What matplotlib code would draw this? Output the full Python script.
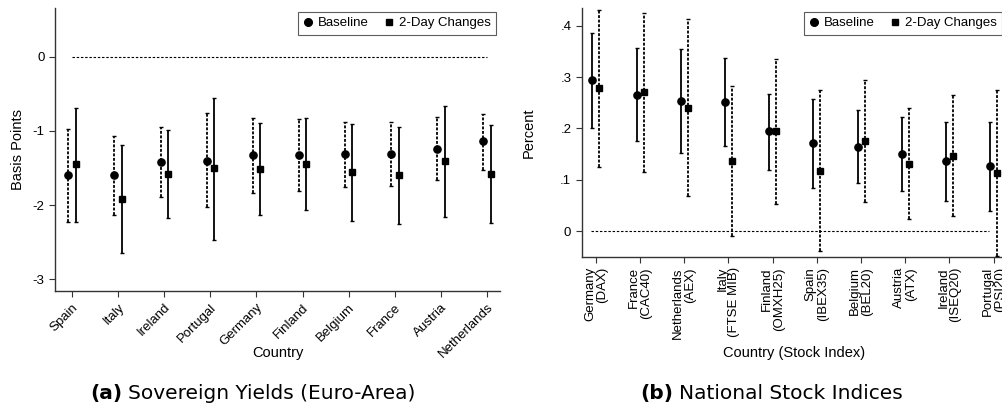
import numpy as np
import matplotlib.pyplot as plt
from matplotlib.lines import Line2D

plt.rcParams['font.family'] = ['Liberation Sans', 'DejaVu Sans']

# panel (a): sovereign yields, basis points
yld_countries = ['Spain', 'Italy', 'Ireland', 'Portugal', 'Germany', 'Finland',
                 'Belgium', 'France', 'Austria', 'Netherlands']
yld_base = [-1.60, -1.60, -1.42, -1.40, -1.33, -1.33, -1.31, -1.31, -1.24, -1.14]
yld_base_hi = [-0.98, -1.07, -0.95, -0.76, -0.83, -0.84, -0.88, -0.88, -0.81, -0.77]
yld_base_lo = [-2.23, -2.14, -1.89, -2.02, -1.84, -1.81, -1.75, -1.74, -1.66, -1.53]
yld_chg = [-1.45, -1.92, -1.585, -1.50, -1.52, -1.45, -1.56, -1.60, -1.41, -1.585]
yld_chg_hi = [-0.69, -1.19, -0.99, -0.55, -0.89, -0.83, -0.90, -0.95, -0.66, -0.92]
yld_chg_lo = [-2.23, -2.65, -2.17, -2.47, -2.14, -2.07, -2.22, -2.25, -2.16, -2.24]

# panel (b): national stock indices, percent
stk_labels = ['Germany\n(DAX)', 'France\n(CAC40)', 'Netherlands\n(AEX)',
              'Italy\n(FTSE MIB)', 'Finland\n(OMXH25)', 'Spain\n(IBEX35)',
              'Belgium\n(BEL20)', 'Austria\n(ATX)', 'Ireland\n(ISEQ20)',
              'Portugal\n(PSI20)']
stk_base = [0.294, 0.266, 0.254, 0.251, 0.195, 0.171, 0.163, 0.150, 0.136, 0.127]
stk_base_hi = [0.386, 0.357, 0.355, 0.338, 0.268, 0.258, 0.236, 0.223, 0.212, 0.213]
stk_base_lo = [0.201, 0.175, 0.152, 0.165, 0.119, 0.083, 0.093, 0.078, 0.058, 0.040]
stk_chg = [0.279, 0.271, 0.240, 0.136, 0.195, 0.117, 0.176, 0.130, 0.146, 0.113]
stk_chg_hi = [0.432, 0.426, 0.413, 0.283, 0.335, 0.275, 0.294, 0.240, 0.265, 0.275]
stk_chg_lo = [0.125, 0.115, 0.068, -0.010, 0.053, -0.039, 0.057, 0.023, 0.029, -0.049]

DOT = (0, (1.6, 0.9))
OFF = 0.08
TICKFS = 9.5
LABFS = 10.5


def ci_series(ax, x, y, lo, hi, marker, ms, style):
    y = np.asarray(y)
    err = [y - np.asarray(lo), np.asarray(hi) - y]
    _, caps, bars = ax.errorbar(x, y, yerr=err, fmt=marker, ms=ms, color='black',
                                ecolor='black', elinewidth=1.3, capsize=1.6,
                                capthick=1.0, zorder=3)
    for b in bars:
        b.set_linestyle(style)


def add_legend(ax):
    handles = [Line2D([], [], ls='none', marker='o', ms=5.5, color='black'),
               Line2D([], [], ls='none', marker='s', ms=5, color='black')]
    leg = ax.legend(handles, ['Baseline', '2-Day Changes'], ncol=2, loc='upper right',
                    bbox_to_anchor=(1.0, 1.0), fontsize=9.5, frameon=True, fancybox=False,
                    handletextpad=0.35, columnspacing=1.1, borderpad=0.4,
                    handlelength=0.8, borderaxespad=0.3)
    leg.get_frame().set_edgecolor('#333333')
    leg.get_frame().set_linewidth(0.8)


def style_axes(ax):
    for s in ['top', 'right']:
        ax.spines[s].set_visible(False)
    for s in ['left', 'bottom']:
        ax.spines[s].set_color('#333333')
        ax.spines[s].set_linewidth(1.0)
    ax.tick_params(length=4, width=0.8, color='#333333', labelsize=TICKFS)


fig = plt.figure(figsize=(10.03, 4.12), dpi=100)

# (a) sovereign yields
ax1 = fig.add_axes([0.0548, 0.2937, 0.4437, 0.6869])
x = np.arange(1, len(yld_countries) + 1)
ax1.hlines(0, 1, 10, colors='black', linestyles=(0, (2.2, 1.6)), linewidth=0.8)
ci_series(ax1, x - OFF, yld_base, yld_base_lo, yld_base_hi, 'o', 5.2, DOT)
ci_series(ax1, x + OFF, yld_chg, yld_chg_lo, yld_chg_hi, 's', 5.0, '-')
ax1.set_xlim(0.63, 10.28)
ax1.set_ylim(-3.16, 0.66)
ax1.set_yticks([0, -1, -2, -3])
ax1.set_yticklabels(['0', '-1', '-2', '-3'])
ax1.set_xticks(x)
ax1.set_xticklabels(yld_countries, rotation=45, ha='right', va='top',
                    rotation_mode='anchor')
ax1.set_ylabel('Basis Points', fontsize=LABFS, va='center')
ax1.yaxis.set_label_coords(-0.082, 0.5)
ax1.set_xlabel('Country', fontsize=LABFS, va='center')
ax1.xaxis.set_label_coords(0.5, -0.219)
style_axes(ax1)
add_legend(ax1)

# (b) stock indices
ax2 = fig.add_axes([0.580, 0.377, 0.423, 0.6036])
x = np.arange(1, len(stk_labels) + 1)
ax2.hlines(0, 0.9, 9.9, colors='black', linestyles=(0, (2.2, 1.6)), linewidth=0.8)
ci_series(ax2, x - OFF, stk_base, stk_base_lo, stk_base_hi, 'o', 5.2, '-')
ci_series(ax2, x + OFF, stk_chg, stk_chg_lo, stk_chg_hi, 's', 5.0, DOT)
ax2.set_xlim(0.68, 10.28)
ax2.set_ylim(-0.05, 0.435)
ax2.set_yticks([0, 0.1, 0.2, 0.3, 0.4])
ax2.set_yticklabels(['0', '.1', '.2', '.3', '.4'])
ax2.set_xticks(x)
ax2.set_xticklabels(stk_labels, rotation=90, ha='center', va='top',
                    multialignment='right', linespacing=1.0)
ax2.set_ylabel('Percent', fontsize=LABFS, va='center')
ax2.yaxis.set_label_coords(-0.124, 0.5)
ax2.set_xlabel('Country (Stock Index)', fontsize=LABFS, va='center')
ax2.xaxis.set_label_coords(0.5, -0.386)
style_axes(ax2)
add_legend(ax2)

# panel captions: bold tag followed by the title
cap = dict(fontsize=14.5, family=['DejaVu Sans'], va='center')
fig.canvas.draw()
rend = fig.canvas.get_renderer()
for x0, tag, title in [(90, '(a)', 'Sovereign Yields (Euro-Area)'),
                       (640, '(b)', 'National Stock Indices')]:
    t = fig.text(x0 / 1003, 0.046, tag, fontweight='bold', ha='left', **cap)
    x1 = t.get_window_extent(rend).x1
    fig.text((x1 + 6) / 1003, 0.046, title, ha='left', **cap)

fig.savefig('out.png', dpi=100)
